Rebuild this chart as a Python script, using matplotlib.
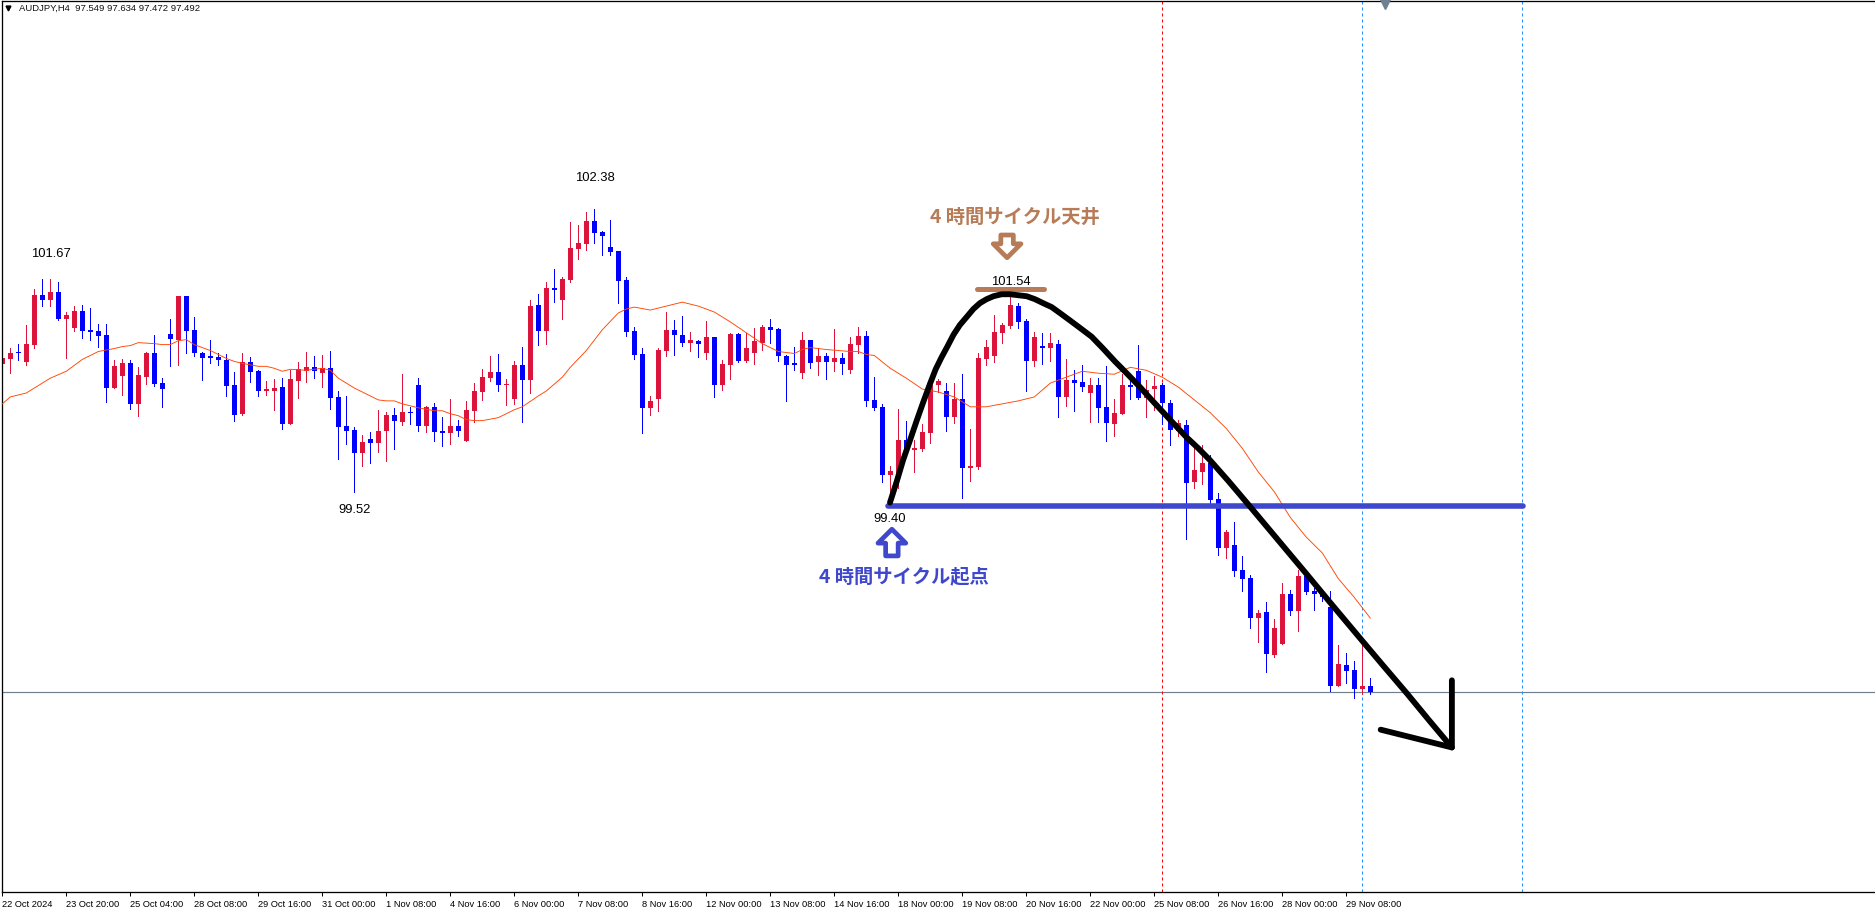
import numpy as np
import matplotlib
matplotlib.use('Agg')
import matplotlib.pyplot as plt
from matplotlib.patches import FancyArrowPatch

# AUDJPY H4 candles
opens = [100.81, 100.86, 100.94, 100.83, 101.01, 101.51, 101.46, 101.54, 101.27, 101.18,
         101.35, 101.16, 101.15, 101.11, 100.57, 100.69, 100.82, 100.41, 100.68, 100.93,
         100.62, 101.12, 101.06, 101.50, 101.16, 100.93, 100.89, 100.88, 100.85, 100.60,
         100.31, 100.83, 100.74, 100.54, 100.54, 100.58, 100.21, 100.64, 100.74, 100.78,
         100.72, 100.77, 100.48, 100.19, 100.15, 99.91, 100.05, 100.01, 100.13, 100.30,
         100.23, 100.33, 100.60, 100.19, 100.38, 100.13, 100.11, 100.19, 100.03, 100.34,
         100.53, 100.67, 100.73, 100.60, 100.46, 100.80, 100.65, 101.41, 101.15, 101.58,
         101.46, 101.66, 101.98, 102.03, 102.26, 102.15, 102.00, 101.96, 101.66, 101.15,
         100.91, 100.37, 100.46, 100.95, 101.16, 101.11, 101.03, 101.05, 100.92, 101.09,
         100.60, 100.80, 101.12, 100.84, 100.93, 101.03, 101.19, 101.17, 100.89, 100.82,
         100.72, 101.06, 100.83, 100.89, 100.83, 100.87, 100.75, 101.01, 101.10, 100.45,
         100.38, 99.69, 99.71, 100.04, 99.94, 99.95, 100.11, 100.60, 100.54, 100.28,
         100.46, 99.76, 99.77, 100.86, 100.89, 101.13, 101.20, 101.40, 101.25, 100.84,
         101.00, 100.98, 101.02, 100.48, 100.65, 100.63, 100.52, 100.60, 100.38, 100.21,
         100.31, 100.60, 100.74, 100.47, 100.56, 100.60, 100.42, 100.14, 100.20, 99.62,
         99.72, 99.81, 99.45, 98.95, 98.98, 98.73, 98.65, 98.24, 98.30, 97.87,
         97.98, 98.48, 98.31, 98.67, 98.51, 98.49, 98.35, 97.55, 97.77, 97.71,
         97.52, 97.549]
highs = [100.91, 100.98, 101.02, 101.21, 101.57, 101.67, 101.67, 101.64, 101.34, 101.40,
         101.41, 101.38, 101.22, 101.22, 100.85, 100.86, 100.85, 100.78, 100.94, 101.11,
         100.67, 101.27, 101.50, 101.50, 101.29, 100.94, 101.06, 100.93, 100.91, 100.73,
         100.93, 100.88, 100.75, 100.64, 100.66, 100.67, 100.75, 100.83, 100.94, 100.89,
         100.90, 100.95, 100.54, 100.49, 100.18, 100.09, 100.12, 100.35, 100.33, 100.37,
         100.71, 100.38, 100.67, 100.39, 100.42, 100.28, 100.46, 100.25, 100.44, 100.62,
         100.76, 100.89, 100.91, 100.66, 100.84, 100.99, 101.46, 101.52, 101.64, 101.78,
         101.69, 102.25, 102.22, 102.35, 102.38, 102.16, 102.27, 101.96, 101.69, 101.19,
         100.98, 100.49, 100.98, 101.34, 101.26, 101.30, 101.14, 101.06, 101.25, 101.09,
         100.85, 101.13, 101.13, 101.13, 101.18, 101.21, 101.27, 101.18, 100.90, 100.99,
         101.14, 101.06, 100.98, 100.93, 101.17, 100.93, 101.09, 101.19, 101.15, 100.68,
         100.41, 99.78, 100.36, 100.24, 100.04, 100.21, 100.61, 100.66, 100.62, 100.62,
         100.71, 100.16, 100.92, 101.06, 101.31, 101.23, 101.54, 101.43, 101.27, 101.14,
         101.13, 101.13, 101.06, 100.86, 100.75, 100.80, 100.67, 100.67, 100.79, 100.46,
         100.71, 100.67, 101.01, 100.65, 100.69, 100.62, 100.45, 100.25, 100.25, 99.99,
         99.99, 99.89, 99.51, 99.13, 99.21, 98.87, 98.68, 98.32, 98.40, 98.23,
         98.60, 98.52, 98.73, 98.69, 98.54, 98.52, 98.51, 97.97, 97.89, 97.81,
         97.99, 97.634]
lows = [100.73, 100.72, 100.85, 100.80, 100.98, 101.40, 101.40, 101.26, 100.87, 101.15,
        101.08, 101.06, 100.99, 100.43, 100.57, 100.50, 100.36, 100.29, 100.61, 100.59,
        100.38, 100.79, 100.80, 100.92, 100.89, 100.65, 100.82, 100.80, 100.49, 100.24,
        100.30, 100.63, 100.49, 100.50, 100.35, 100.16, 100.21, 100.47, 100.63, 100.67,
        100.58, 100.36, 99.85, 100.00, 99.52, 99.78, 99.81, 99.92, 99.83, 99.95,
        100.20, 100.21, 100.14, 100.12, 100.03, 99.98, 100.00, 100.08, 100.03, 100.23,
        100.45, 100.64, 100.54, 100.40, 100.41, 100.23, 100.52, 101.01, 101.02, 101.44,
        101.27, 101.64, 101.88, 101.97, 102.04, 101.92, 101.92, 101.43, 101.10, 100.86,
        100.11, 100.30, 100.34, 100.89, 100.90, 101.00, 100.95, 100.88, 100.86, 100.48,
        100.55, 100.66, 100.83, 100.83, 100.81, 100.96, 101.03, 100.84, 100.44, 100.75,
        100.67, 100.77, 100.70, 100.66, 100.74, 100.71, 100.72, 100.92, 100.39, 100.35,
        99.62, 99.40, 99.56, 99.87, 99.72, 99.93, 100.01, 100.53, 100.13, 100.22,
        99.46, 99.63, 99.75, 100.80, 100.83, 101.03, 101.18, 101.18, 100.54, 100.79,
        100.81, 100.84, 100.28, 100.39, 100.34, 100.54, 100.23, 100.23, 100.03, 100.08,
        100.31, 100.46, 100.46, 100.28, 100.35, 100.21, 99.99, 100.08, 99.04, 99.56,
        99.60, 99.40, 98.88, 98.85, 98.67, 98.51, 98.14, 98.00, 97.69, 97.85,
        97.98, 98.27, 98.11, 98.48, 98.32, 98.41, 97.50, 97.55, 97.58, 97.43,
        97.47, 97.472]
closes = [100.87, 100.93, 100.92, 101.02, 101.51, 101.46, 101.54, 101.27, 101.31, 101.35,
          101.15, 101.14, 101.10, 100.57, 100.79, 100.82, 100.41, 100.70, 100.93, 100.61,
          100.56, 101.07, 101.50, 101.15, 100.92, 100.87, 100.87, 100.85, 100.59, 100.30,
          100.83, 100.73, 100.54, 100.56, 100.57, 100.21, 100.66, 100.76, 100.78, 100.74,
          100.77, 100.47, 100.18, 100.14, 99.91, 100.02, 100.01, 100.13, 100.30, 100.24,
          100.33, 100.32, 100.19, 100.38, 100.12, 100.11, 100.19, 100.14, 100.35, 100.54,
          100.68, 100.73, 100.60, 100.61, 100.80, 100.65, 101.40, 101.15, 101.58, 101.56,
          101.67, 101.99, 102.04, 102.26, 102.14, 102.11, 101.95, 101.65, 101.14, 100.90,
          100.37, 100.44, 100.96, 101.16, 101.11, 101.03, 101.06, 101.02, 101.09, 100.60,
          100.81, 101.12, 100.84, 100.98, 101.05, 101.19, 101.16, 100.89, 100.80, 100.80,
          101.06, 100.82, 100.89, 100.83, 100.87, 100.81, 101.02, 101.10, 100.44, 100.37,
          99.69, 99.73, 100.04, 99.94, 99.96, 100.12, 100.60, 100.64, 100.28, 100.46,
          99.76, 99.78, 100.87, 100.99, 101.14, 101.21, 101.41, 101.24, 100.84, 101.09,
          100.98, 101.03, 100.48, 100.65, 100.62, 100.58, 100.60, 100.37, 100.22, 100.32,
          100.60, 100.58, 100.47, 100.55, 100.59, 100.42, 100.15, 100.22, 99.61, 99.74,
          99.81, 99.44, 98.95, 99.11, 98.72, 98.64, 98.24, 98.29, 97.88, 98.14,
          98.48, 98.31, 98.67, 98.50, 98.48, 98.45, 97.55, 97.78, 97.70, 97.52,
          97.55, 97.492]

# moving average, read at the candles where it could be seen clearly
ma_idx = [0, 1, 3, 4, 6, 8, 10, 12, 14, 15, 16, 17, 19, 20, 21, 22, 23, 24, 26, 28, 29, 30,
          32, 33, 34, 35, 36, 38, 40, 41, 42, 44, 46, 47, 48, 49, 50, 52, 54, 55, 56, 57,
          58, 59, 60, 62, 64, 65, 67, 68, 70, 71, 73, 75, 77, 78, 79, 81, 83, 85, 87, 89,
          91, 93, 95, 97, 99, 100, 101, 103, 106, 107, 108, 109, 111, 113, 115, 117, 119,
          121, 123, 125, 127, 129, 131, 133, 135, 137, 139, 141, 143, 145, 147, 149, 151,
          153, 155, 157, 159, 161, 163, 165, 167, 169, 171]
ma_vals = [100.41, 100.48, 100.52, 100.57, 100.67, 100.74, 100.86, 100.94, 100.97, 100.99,
           101.00, 101.03, 101.02, 101.01, 101.01, 101.05, 101.06, 101.01, 100.95, 100.87,
           100.84, 100.82, 100.79, 100.79, 100.77, 100.74, 100.76, 100.75, 100.77, 100.75,
           100.67, 100.57, 100.49, 100.45, 100.44, 100.44, 100.41, 100.37, 100.34, 100.34,
           100.31, 100.29, 100.25, 100.24, 100.24, 100.27, 100.35, 100.38, 100.49, 100.54,
           100.68, 100.78, 100.95, 101.16, 101.33, 101.37, 101.39, 101.36, 101.40, 101.44,
           101.40, 101.34, 101.24, 101.13, 101.02, 100.94, 100.92, 100.96, 100.98, 100.96,
           100.94, 100.94, 100.91, 100.90, 100.77, 100.67, 100.56, 100.53, 100.48, 100.38,
           100.38, 100.41, 100.44, 100.48, 100.62, 100.68, 100.74, 100.72, 100.71, 100.78,
           100.75, 100.68, 100.58, 100.45, 100.32, 100.16, 99.96, 99.72, 99.52, 99.26,
           99.06, 98.90, 98.64, 98.45, 98.24]

# hand drawn cycle curve and arrow head
arc_idx = [110.96, 111.79, 112.6, 113.46, 114.3, 115.13, 116.0, 116.67, 117.4, 118.13, 118.9,
           119.71, 120.55, 121.38, 122.2, 123.04, 123.9, 124.92, 125.96, 127.0, 128.05, 129.08,
           130.1, 131.17, 132.2, 133.46, 134.7, 136.17, 137.6, 139.08, 140.55, 142.21, 143.9,
           145.96, 148.05, 149.5, 150.96, 153.25, 155.55, 160.1, 163.05, 165.96, 170.1, 172.6,
           175.55, 178.4, 181.2]
arc_price = [99.41, 99.62, 99.84, 100.04, 100.24, 100.43, 100.62, 100.76, 100.88, 100.99,
             101.11, 101.21, 101.29, 101.37, 101.43, 101.47, 101.50, 101.52, 101.52, 101.51,
             101.50, 101.47, 101.43, 101.39, 101.33, 101.255, 101.18, 101.09, 100.97, 100.84,
             100.72, 100.58, 100.43, 100.25, 100.07, 99.96, 99.84, 99.63, 99.41, 98.97, 98.685,
             98.40, 98.00, 97.76, 97.48, 97.20, 96.93]
head_idx = [172.3, 181.2, 181.2]
head_price = [97.11, 96.93, 97.61]

tick_labels = ['22 Oct 2024', '23 Oct 20:00', '25 Oct 04:00', '28 Oct 08:00', '29 Oct 16:00',
               '31 Oct 00:00', '1 Nov 08:00', '4 Nov 16:00', '6 Nov 00:00', '7 Nov 08:00',
               '8 Nov 16:00', '12 Nov 00:00', '13 Nov 08:00', '14 Nov 16:00', '18 Nov 00:00',
               '19 Nov 08:00', '20 Nov 16:00', '22 Nov 00:00', '25 Nov 08:00', '26 Nov 16:00',
               '28 Nov 00:00', '29 Nov 08:00']

CANDLE_UP = '#DC143C'
CANDLE_DOWN = '#0000FF'
BROWN = '#B77C57'
INDIGO = '#3F48CC'
PX = 0.72  # one pixel in points at dpi 100

plt.rcParams['font.family'] = ['Liberation Sans', 'DejaVu Sans']

fig = plt.figure(figsize=(18.75, 9.11), dpi=100)
ax = fig.add_axes([1.5 / 1875, 19 / 911, 1 - 1.5 / 1875, 891 / 911])

# Candles
x = np.arange(len(opens))
o = np.array(opens)
c = np.array(closes)
colors = [CANDLE_UP if cl >= op else CANDLE_DOWN for op, cl in zip(opens, closes)]
ax.vlines(x, lows, highs, colors=colors, linewidth=PX, zorder=2, antialiased=False)
ax.bar(x, np.abs(c - o), bottom=np.minimum(o, c), width=0.625, color=colors, linewidth=0, zorder=2.1,
       antialiased=False)

# Moving average
ax.plot(ma_idx, ma_vals, color='#FF4500', linewidth=PX * 0.9, zorder=3)

# Current price and vertical markers
ax.axhline(closes[-1], color='#708090', linewidth=PX * 1.2, zorder=1)
ax.axvline(145, color='#FF0000', linewidth=PX, linestyle=(0, (3, 3)), zorder=1)
ax.axvline(170, color='#1E90FF', linewidth=PX, linestyle=(0, (3, 3)), zorder=1)
ax.axvline(190, color='#1E90FF', linewidth=PX, linestyle=(0, (3, 3)), zorder=1)
ax.plot([172.9], [104.46], marker='v', color='#708090', markersize=6.5, zorder=4, clip_on=False)

# Cycle annotations
ax.plot([110.75, 190.1], [99.38, 99.38], color=INDIGO, linewidth=4.0, zorder=4, solid_capstyle='round')
ax.plot([121.9, 130.2], [101.57, 101.57], color=BROWN, linewidth=3.6, zorder=4, solid_capstyle='round')
ax.plot(arc_idx, arc_price, color='black', linewidth=4.2, zorder=5, solid_capstyle='round')
ax.plot(head_idx, head_price, color='black', linewidth=4.2, zorder=5,
        solid_capstyle='round', solid_joinstyle='round')

arrow_style = 'simple,head_length=10,head_width=20,tail_width=9'
ax.add_patch(FancyArrowPatch((111.2, 98.87), (111.2, 99.14), arrowstyle=arrow_style, mutation_scale=1,
                             fc='white', ec=INDIGO, linewidth=3.4, shrinkA=0, shrinkB=0, zorder=4))
ax.add_patch(FancyArrowPatch((125.6, 102.12), (125.6, 101.89), arrowstyle=arrow_style, mutation_scale=1,
                             fc='white', ec=BROWN, linewidth=3.4, shrinkA=0, shrinkB=0, zorder=4))

cjk = ['Noto Sans CJK JP', 'DejaVu Sans']
ax.text(126.6, 102.30, '4 時間サイクル天井', color=BROWN, fontsize=13.9, fontweight='bold',
        family=cjk, ha='center', va='center')
ax.text(112.7, 98.66, '4 時間サイクル起点', color=INDIGO, fontsize=13.9, fontweight='bold',
        family=cjk, ha='center', va='center')

# High and low labels
for xi, yi, label in [(6.05, 101.93, '101.67'), (74.1, 102.70, '102.38'), (44, 99.33, '99.52'),
                      (126.05, 101.64, '101.54'), (110.96, 99.24, '99.40')]:
    ax.text(xi, yi, label, fontsize=9.4, color='black', ha='center', va='center')

# Header
ax.text(17.5 / 1873.5, 1 - 7 / 891, 'AUDJPY,H4  97.549 97.634 97.472 97.492', transform=ax.transAxes,
        fontsize=6.8, color='#111111', ha='left', va='center')
ax.plot([0.0035], [0.9925], marker='v', color='black', markersize=3.5, transform=ax.transAxes)

# Axes
ax.set_xlim(-0.1, 234.09)
ax.set_ylim(95.466, 104.49)
ax.set_yticks([])
ax.set_xticks(np.arange(len(tick_labels)) * 8)
ax.set_xticklabels(tick_labels, fontsize=6.7, ha='left')
ax.tick_params(axis='x', length=3, width=PX, pad=2.5, color='black')
ax.spines['right'].set_visible(False)
for side in ['left', 'top', 'bottom']:
    ax.spines[side].set_linewidth(PX * 1.3)

plt.savefig('out.png', dpi=100)
plt.close()
